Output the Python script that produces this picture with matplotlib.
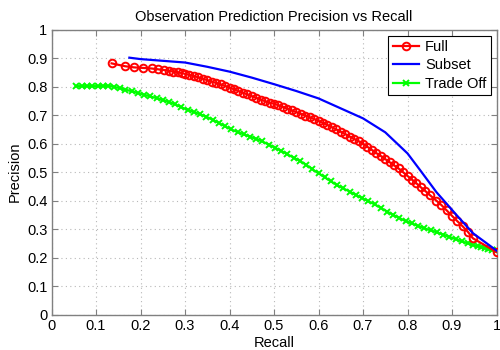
import matplotlib
matplotlib.use("Agg")
import matplotlib.pyplot as plt

plt.rcParams['font.family'] = ['Liberation Sans', 'DejaVu Sans']

# Full (red circles)
full_recall = [0.135, 0.165, 0.185, 0.205, 0.225, 0.24, 0.252, 0.263, 0.274, 0.285, 0.293,
               0.30, 0.31, 0.32, 0.33, 0.34, 0.35, 0.36, 0.37, 0.38, 0.39,
               0.40, 0.41, 0.42, 0.43, 0.44, 0.45, 0.46, 0.47, 0.48, 0.49,
               0.50, 0.51, 0.52, 0.53, 0.54, 0.55, 0.56, 0.57, 0.58, 0.59,
               0.60, 0.61, 0.62, 0.63, 0.64, 0.65, 0.66, 0.67, 0.68, 0.69,
               0.70, 0.71, 0.72, 0.73, 0.74, 0.75, 0.76, 0.77, 0.78, 0.79,
               0.80, 0.81, 0.82, 0.83, 0.84, 0.85,
               0.865, 0.876, 0.888, 0.90, 0.912, 0.924, 0.936, 0.947, 1.0]
full_precision = [0.882, 0.872, 0.868, 0.866, 0.864, 0.861, 0.859, 0.856, 0.853, 0.850, 0.848,
                  0.845, 0.841, 0.837, 0.833, 0.828, 0.823, 0.818, 0.813, 0.808, 0.803,
                  0.797, 0.791, 0.785, 0.779, 0.773, 0.767, 0.761, 0.755, 0.749, 0.744,
                  0.740, 0.735, 0.729, 0.723, 0.717, 0.711, 0.705, 0.699, 0.693, 0.687,
                  0.680, 0.673, 0.666, 0.658, 0.650, 0.642, 0.634, 0.625, 0.617, 0.609,
                  0.600, 0.589, 0.578, 0.567, 0.557, 0.546, 0.535, 0.524, 0.513, 0.500,
                  0.487, 0.474, 0.461, 0.447, 0.434, 0.420,
                  0.400, 0.385, 0.366, 0.347, 0.328, 0.310, 0.290, 0.268, 0.220]

# Subset (blue line)
subset_recall = [0.175, 0.20, 0.25, 0.30, 0.35, 0.40, 0.45, 0.50, 0.55, 0.60, 0.65,
                 0.70, 0.75, 0.775, 0.80, 0.828, 0.865, 0.91, 0.947, 1.0]
subset_precision = [0.902, 0.897, 0.891, 0.885, 0.870, 0.853, 0.832, 0.809, 0.785, 0.759, 0.724,
                    0.689, 0.640, 0.603, 0.566, 0.508, 0.430, 0.350, 0.286, 0.225]

# Trade Off (green crosses)
trade_recall = [0.056, 0.068, 0.08, 0.092, 0.104, 0.116, 0.128, 0.14, 0.153, 0.166, 0.18, 0.194,
                0.208, 0.222, 0.236, 0.25, 0.264, 0.278, 0.292, 0.306, 0.32, 0.334, 0.348, 0.362,
                0.376, 0.39, 0.404, 0.418, 0.432, 0.446, 0.46, 0.474, 0.488, 0.502, 0.516, 0.53,
                0.544, 0.558, 0.572, 0.586, 0.60, 0.614, 0.628, 0.642, 0.656, 0.67, 0.684, 0.698,
                0.712, 0.726, 0.74, 0.754, 0.768, 0.782, 0.796, 0.81, 0.824, 0.838, 0.852, 0.866,
                0.88, 0.894, 0.908, 0.922, 0.936, 0.948, 0.958, 0.966, 0.974, 0.982, 0.99, 1.0]
trade_precision = [0.802, 0.802, 0.802, 0.802, 0.802, 0.803, 0.803, 0.800, 0.795, 0.790, 0.784, 0.778,
                   0.772, 0.766, 0.760, 0.753, 0.746, 0.738, 0.728, 0.719, 0.711, 0.703, 0.695, 0.684,
                   0.673, 0.661, 0.650, 0.641, 0.633, 0.625, 0.617, 0.608, 0.597, 0.586, 0.575, 0.563,
                   0.551, 0.540, 0.526, 0.511, 0.496, 0.482, 0.468, 0.454, 0.443, 0.432, 0.420, 0.409,
                   0.398, 0.387, 0.375, 0.362, 0.350, 0.339, 0.328, 0.320, 0.311, 0.303, 0.296, 0.289,
                   0.281, 0.273, 0.265, 0.257, 0.250, 0.244, 0.240, 0.236, 0.233, 0.230, 0.228, 0.226]

ticks = [0, 0.1, 0.2, 0.3, 0.4, 0.5, 0.6, 0.7, 0.8, 0.9, 1]
tick_labels = ['0', '0.1', '0.2', '0.3', '0.4', '0.5', '0.6', '0.7', '0.8', '0.9', '1']

fig = plt.figure(figsize=(5, 3.5), dpi=100)
ax = fig.add_axes([0.103, 0.101, 0.890, 0.814])

ax.plot(full_recall, full_precision, '-o', color='red', lw=1.6, ms=5.5,
        mfc='none', mew=1.4, label='Full', zorder=3)
ax.plot(subset_recall, subset_precision, '-', color='blue', lw=1.6, label='Subset', zorder=4)
ax.plot(trade_recall, trade_precision, '-x', color=(0, 1, 0), lw=1.6, ms=5,
        mew=1.4, label='Trade Off', zorder=2)

ax.set_xlim(0, 1)
ax.set_ylim(0, 1)
ax.set_xticks(ticks)
ax.set_xticklabels(tick_labels)
ax.set_yticks(ticks)
ax.set_yticklabels(tick_labels)
ax.tick_params(direction='in', top=True, right=True, length=4, width=0.8,
               color='#808080', labelsize=10.5, pad=3)
for s in ax.spines.values():
    s.set_color('#808080')
    s.set_linewidth(1.0)
ax.grid(True, linestyle=(0, (1, 3)), color='#b8b8b8', lw=0.8)

ax.set_title('Observation Prediction Precision vs Recall', fontsize=10.5, pad=6)
ax.set_xlabel('Recall', fontsize=10.5, labelpad=2)
ax.set_ylabel('Precision', fontsize=10.5, labelpad=4)

leg = ax.legend(loc='upper right', fontsize=10.5, fancybox=False, framealpha=1,
                edgecolor='black', borderpad=0.3, labelspacing=0.3, handlelength=1.8,
                handletextpad=0.4, borderaxespad=0.4)
leg.get_frame().set_linewidth(0.8)

fig.savefig('out.png', dpi=100)
